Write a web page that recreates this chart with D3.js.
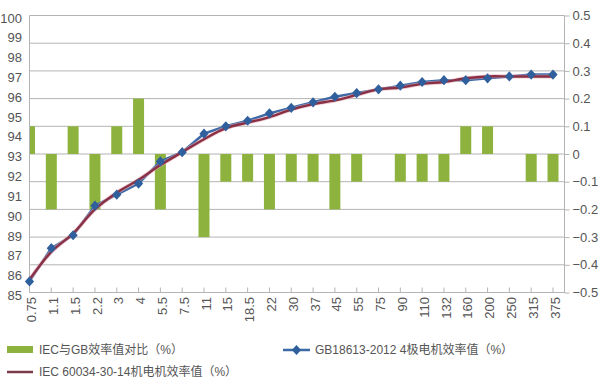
<!DOCTYPE html>
<html><head><meta charset="utf-8">
<script src="https://cdn.jsdelivr.net/npm/d3@7/dist/d3.min.js"></script>
<style>
body{margin:0;background:#fff;}
svg{display:block;font-family:"Liberation Sans","Noto Sans CJK SC",sans-serif;}
</style></head>
<body><svg id="c" width="600" height="390"></svg>
<script>
const categories = ["0.75","1.1","1.5","2.2","3","4","5.5","7.5","11","15","18.5","22","30","37","45","55","75","90","110","132","160","200","250","315","375"];
const gbValues  = [85.6,87.4,88.1,89.7,90.3,90.9,92.1,92.6,93.6,94.0,94.3,94.7,95.0,95.3,95.6,95.8,96.0,96.2,96.4,96.5,96.5,96.6,96.7,96.8,96.8];
const iecValues = [85.7,87.2,88.2,89.5,90.4,91.1,91.9,92.6,93.3,93.9,94.2,94.5,94.9,95.2,95.4,95.7,96.0,96.1,96.3,96.4,96.6,96.7,96.7,96.7,96.7];
const diffValues = [0.1,-0.2,0.1,-0.2,0.1,0.2,-0.2,0,-0.3,-0.1,-0.1,-0.2,-0.1,-0.1,-0.2,-0.1,0,-0.1,-0.1,-0.1,0.1,0.1,0,-0.1,-0.1];
const leftTickLabels = ["100","99","98","97","96","95","94","93","92","91","90","89","87","86","85"];
const rightTicks = [0.5,0.4,0.3,0.2,0.1,0,-0.1,-0.2,-0.3,-0.4,-0.5];
const legendLabels = ["IEC与GB效率值对比（%）","GB18613-2012 4极电机效率值（%）","IEC 60034-30-14机电机效率值（%）"];

const L = 29.5, R = 564.5, T = 15.5, B = 292.5;
const svg = d3.select("#c");
const x = d3.scalePoint().domain(categories).range([29.5, 553]);
const yL = d3.scaleLinear().domain([85, 100]).range([B, T]);
const yR = d3.scaleLinear().domain([-0.5, 0.5]).range([B, T]);
const yLab = d3.scalePoint().domain(leftTickLabels).range([18, 295.5]);

const grid = "#b4b4b4", textCol = "#555";

svg.append("g").selectAll("line").data(rightTicks).join("line")
  .attr("x1", L).attr("x2", R).attr("y1", d => yR(d)).attr("y2", d => yR(d))
  .attr("stroke", grid).attr("stroke-width", 1);

svg.append("clipPath").attr("id","clip").append("rect")
  .attr("x", L).attr("y", T).attr("width", R - L).attr("height", B - T);

const bw = 11;
svg.append("g").attr("clip-path","url(#clip)").selectAll("rect")
  .data(categories.map((c,i)=>({c, v: diffValues[i]})).filter(d => d.v !== 0))
  .join("rect")
  .attr("x", d => x(d.c) - bw/2).attr("width", bw)
  .attr("y", d => yR(Math.max(0, d.v)))
  .attr("height", d => Math.abs(yR(d.v) - yR(0)))
  .attr("fill", "#8db33e");

svg.append("line").attr("x1", L).attr("x2", L).attr("y1", T).attr("y2", B).attr("stroke", grid);
svg.append("line").attr("x1", R).attr("x2", R).attr("y1", T).attr("y2", B).attr("stroke", grid);
svg.append("line").attr("x1", L).attr("x2", R).attr("y1", B).attr("y2", B).attr("stroke", grid);

const ra = d3.axisRight(yR).tickValues(rightTicks).tickSize(5).tickPadding(3)
  .tickFormat(d => Math.abs(d) < 1e-9 ? "0" : (d < 0 ? "−" : "") + Math.abs(d).toFixed(1));
const rg = svg.append("g").attr("transform", `translate(${R},0)`).call(ra);
rg.select(".domain").remove();
rg.selectAll(".tick line").attr("stroke", grid);
rg.selectAll(".tick text").attr("fill", textCol).attr("font-size", 13).attr("font-family", "Liberation Sans");

svg.append("g").selectAll("text").data(leftTickLabels).join("text")
  .attr("x", 22).attr("y", d => yLab(d)).attr("dy", "0.35em")
  .attr("text-anchor", "end").attr("fill", textCol).attr("font-size", 13)
  .text(d => d);

svg.append("g").selectAll("line").data(categories).join("line")
  .attr("x1", d => x(d)).attr("x2", d => x(d)).attr("y1", B).attr("y2", B - 5)
  .attr("stroke", grid);
svg.append("g").selectAll("text").data(categories).join("text")
  .attr("transform", d => `translate(${x(d) + 2},297) rotate(-90)`)
  .attr("dy", "0.35em").attr("text-anchor", "end")
  .attr("fill", textCol).attr("font-size", 13).text(d => d);

const gbData = categories.map((c,i)=>({c, v: gbValues[i]}));
const iecData = categories.map((c,i)=>({c, v: iecValues[i]}));
svg.append("path").datum(gbData)
  .attr("d", d3.line().x(d => x(d.c)).y(d => yL(d.v)))
  .attr("fill","none").attr("stroke","#3d6aa6").attr("stroke-width",2.5);
const diamond = d3.symbol().type(d3.symbolDiamond2).size(60);
const iecLine = d3.line().x(d => x(d.c)).y(d => yL(d.v)).curve(d3.curveCatmullRom.alpha(0.5));
svg.append("path").datum(iecData).attr("d", iecLine)
  .attr("fill","none").attr("stroke","#e3a6b3").attr("stroke-width",4).attr("opacity",0.6);
svg.append("path").datum(iecData).attr("d", iecLine)
  .attr("fill","none").attr("stroke","#8a3045").attr("stroke-width",2.4);
svg.append("g").selectAll("path").data(gbData).join("path")
  .attr("transform", d => `translate(${x(d.c)},${yL(d.v)}) scale(0.95,1.05)`)
  .attr("d", diamond).attr("fill", "#2f5f9c");

const lg = svg.append("g").attr("font-size", 12).attr("fill", textCol);
lg.append("rect").attr("x", 7).attr("y", 346).attr("width", 26).attr("height", 7).attr("fill", "#8db33e");
lg.append("text").attr("x", 39).attr("y", 350).attr("dy", "0.35em").text(legendLabels[0]);
lg.append("line").attr("x1", 283).attr("x2", 310).attr("y1", 350).attr("y2", 350).attr("stroke", "#3d6aa6").attr("stroke-width", 2.5);
lg.append("path").attr("transform", "translate(296.5,350) scale(0.95,1.05)").attr("d", diamond).attr("fill", "#2f5f9c");
lg.append("text").attr("x", 315).attr("y", 350).attr("dy", "0.35em").text(legendLabels[1]);
lg.append("line").attr("x1", 7).attr("x2", 33).attr("y1", 372).attr("y2", 372).attr("stroke", "#7d3a4a").attr("stroke-width", 2.5);
lg.append("text").attr("x", 39).attr("y", 372).attr("dy", "0.35em").text(legendLabels[2]);
</script></body></html>
